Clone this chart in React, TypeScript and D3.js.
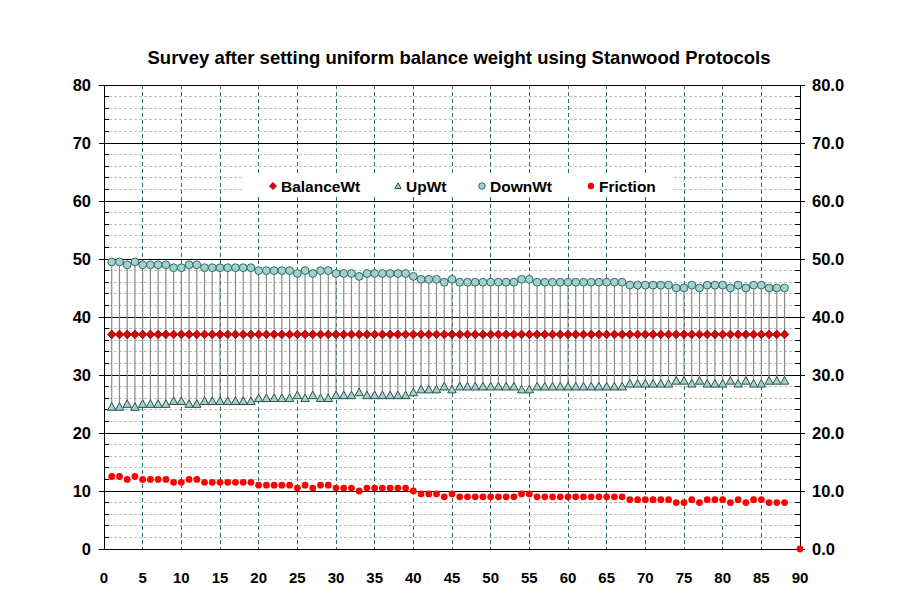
import * as d3 from 'd3';
import React from 'react';

// survey readings, one per position 1..88
const downWt = [
  49.5, 49.5, 49, 49.5, 49, 49, 49, 49, 48.5, 48.5,
  49, 49, 48.5, 48.5, 48.5, 48.5, 48.5, 48.5, 48.5, 48,
  48, 48, 48, 48, 47.5, 48, 47.5, 48, 48, 47.5,
  47.5, 47.5, 47, 47.5, 47.5, 47.5, 47.5, 47.5, 47.5, 47,
  46.5, 46.5, 46.5, 46, 46.5, 46, 46, 46, 46, 46,
  46, 46, 46, 46.5, 46.5, 46, 46, 46, 46, 46,
  46, 46, 46, 46, 46, 46, 46, 45.5, 45.5, 45.5,
  45.5, 45.5, 45.5, 45, 45, 45.5, 45, 45.5, 45.5, 45.5,
  45, 45.5, 45, 45.5, 45.5, 45, 45, 45,
];
const upWt = [
  24.5, 24.5, 25, 24.5, 25, 25, 25, 25, 25.5, 25.5,
  25, 25, 25.5, 25.5, 25.5, 25.5, 25.5, 25.5, 25.5, 26,
  26, 26, 26, 26, 26.5, 26, 26.5, 26, 26, 26.5,
  26.5, 26.5, 27, 26.5, 26.5, 26.5, 26.5, 26.5, 26.5, 27,
  27.5, 27.5, 27.5, 28, 27.5, 28, 28, 28, 28, 28,
  28, 28, 28, 27.5, 27.5, 28, 28, 28, 28, 28,
  28, 28, 28, 28, 28, 28, 28, 28.5, 28.5, 28.5,
  28.5, 28.5, 28.5, 29, 29, 28.5, 29, 28.5, 28.5, 28.5,
  29, 28.5, 29, 28.5, 28.5, 29, 29, 29,
];
const friction = [
  12.5, 12.5, 12, 12.5, 12, 12, 12, 12, 11.5, 11.5,
  12, 12, 11.5, 11.5, 11.5, 11.5, 11.5, 11.5, 11.5, 11,
  11, 11, 11, 11, 10.5, 11, 10.5, 11, 11, 10.5,
  10.5, 10.5, 10, 10.5, 10.5, 10.5, 10.5, 10.5, 10.5, 10,
  9.5, 9.5, 9.5, 9, 9.5, 9, 9, 9, 9, 9,
  9, 9, 9, 9.5, 9.5, 9, 9, 9, 9, 9,
  9, 9, 9, 9, 9, 9, 9, 8.5, 8.5, 8.5,
  8.5, 8.5, 8.5, 8, 8, 8.5, 8, 8.5, 8.5, 8.5,
  8, 8.5, 8, 8.5, 8.5, 8, 8, 8,
  0,
];
const frictionPos = [...d3.range(1, 89), 90];
const balanceWt = 37;

const xTicks = d3.range(0, 91, 5);
const yMajor = d3.range(0, 81, 10);
const yMinor = d3.range(0, 81, 2).filter(v => v % 10 !== 0);

const title = 'Survey after setting uniform balance weight using Stanwood Protocols';
const legendItems = ['BalanceWt', 'UpWt', 'DownWt', 'Friction'];

const W = 908, H = 615;
const m = { left: 104, right: 800, top: 85, bottom: 549 };
const font = 'Arial, "Liberation Sans", sans-serif';

const teal = '#2e6b6b';
const markFill = '#a3d2ca';

function Diamond({ x, y, s = 4.3 }) {
  return <path d={`M${x},${y - s}L${x + s},${y}L${x},${y + s}L${x - s},${y}Z`}
    fill="#e00000" stroke="#800000" strokeWidth={0.8} />;
}
function Tri({ x, y, s = 4.2 }) {
  return <path d={`M${x},${y - s}L${x + s},${y + s * 0.8}L${x - s},${y + s * 0.8}Z`}
    fill={markFill} stroke="#2f4f4f" strokeWidth={1} />;
}

export default function App() {
  const x = d3.scaleLinear().domain([0, 90]).range([m.left, m.right]);
  const y = d3.scaleLinear().domain([0, 80]).range([m.bottom, m.top]);
  const pos = d3.range(1, downWt.length + 1);

  return (
    <svg width={W} height={H} style={{ position: 'fixed', left: 0, top: 0, background: '#fff' }}
      fontFamily={font}>
      <rect width={W} height={H} fill="#fff" />
      <text x={459} y={64} textAnchor="middle" fontWeight="bold" fontSize={18.5}>{title}</text>

      <g shapeRendering="crispEdges">
        {/* minor dashed grid */}
        {yMinor.map(v => (
          <line key={'mn' + v} x1={m.left} x2={m.right} y1={y(v)} y2={y(v)}
            stroke="#bdbdbd" strokeDasharray="3,2" />
        ))}
        {xTicks.filter(v => v > 0 && v < 90).map(v => (
          <line key={'vx' + v} x1={x(v)} x2={x(v)} y1={m.top} y2={m.bottom}
            stroke={teal} strokeDasharray="4,3" />
        ))}
        {yMajor.map(v => (
          <line key={'mj' + v} x1={m.left} x2={m.right} y1={y(v)} y2={y(v)} stroke="#000" />
        ))}

        {/* axes */}
        <line x1={m.left} x2={m.left} y1={m.top} y2={m.bottom} stroke="#000" />
        <line x1={m.right} x2={m.right} y1={m.top} y2={m.bottom} stroke="#000" />
        {yMajor.map(v => (
          <g key={'t' + v}>
            <line x1={m.left - 5} x2={m.left} y1={y(v)} y2={y(v)} stroke="#000" />
            <line x1={m.right} x2={m.right + 5} y1={y(v)} y2={y(v)} stroke="#000" />
          </g>
        ))}
        {yMinor.map(v => (
          <g key={'tm' + v}>
            <line x1={m.left} x2={m.left + 5} y1={y(v)} y2={y(v)} stroke="#000" />
            <line x1={m.right - 5} x2={m.right} y1={y(v)} y2={y(v)} stroke="#000" />
          </g>
        ))}
      </g>

      {yMajor.map(v => (
        <g key={'yl' + v} fontWeight="bold" fontSize={16.5}>
          <text x={91} y={y(v) + 6} textAnchor="end">{v}</text>
          <text x={812} y={y(v) + 6}>{v.toFixed(1)}</text>
        </g>
      ))}
      {xTicks.map(v => (
        <text key={'xl' + v} x={x(v)} y={583} textAnchor="middle" fontWeight="bold" fontSize={15}>{v}</text>
      ))}

      {/* legend */}
      <rect x={243} y={175} width={429} height={22} fill="#fff" />
      <g fontWeight="bold" fontSize={15.5}>
        <Diamond x={273} y={186} s={3.5} />
        <text x={281} y={191.5}>{legendItems[0]}</text>
        <Tri x={398} y={186} s={3.2} />
        <text x={406} y={191.5}>{legendItems[1]}</text>
        <circle cx={482} cy={186} r={3.2} fill={markFill} stroke={teal} />
        <text x={490} y={191.5}>{legendItems[2]}</text>
        <circle cx={591} cy={186} r={3.2} fill="#f00" />
        <text x={599} y={191.5}>{legendItems[3]}</text>
      </g>

      {/* high-low lines between up and down weights */}
      {pos.map((p, i) => (
        <line key={'hl' + p} x1={x(p)} x2={x(p)} y1={y(upWt[i])} y2={y(downWt[i])}
          stroke="#8a8a8a" strokeWidth={1.2} />
      ))}

      {pos.map((p, i) => (
        <circle key={'dn' + p} cx={x(p)} cy={y(downWt[i])} r={3.9}
          fill={markFill} stroke={teal} strokeWidth={1} />
      ))}
      {pos.map((p, i) => <Tri key={'up' + p} x={x(p)} y={y(upWt[i])} />)}
      {pos.map(p => <Diamond key={'bw' + p} x={x(p)} y={y(balanceWt)} />)}
      {frictionPos.map((p, i) => (
        <circle key={'fr' + p} cx={x(p)} cy={y(friction[i])} r={3.4} fill="#f00" />
      ))}
    </svg>
  );
}
